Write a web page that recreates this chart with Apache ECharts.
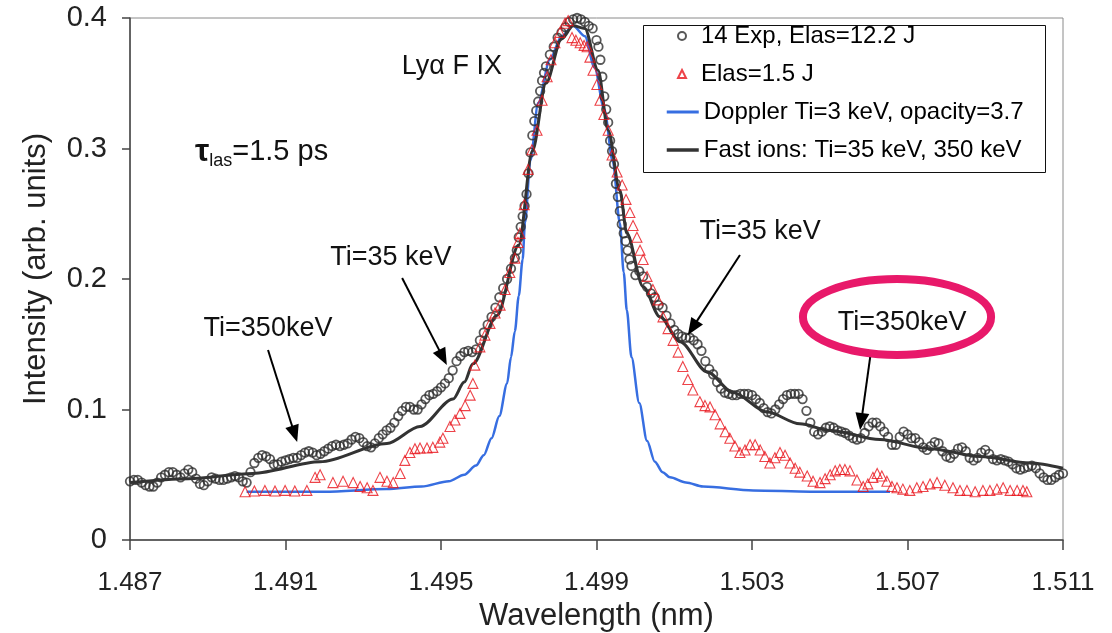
<!DOCTYPE html>
<html><head><meta charset="utf-8">
<script src="https://cdn.jsdelivr.net/npm/echarts@6/dist/echarts.min.js"></script>
<style>html,body{margin:0;padding:0;background:#fff}#c{width:1112px;height:633px}</style>
</head><body><div id="c"></div>
<script>
const FONT = '"Liberation Sans", Arial, Helvetica, sans-serif';

// ---- data (wavelength nm, intensity arb. units) ----
const expData = [
[1.4870,0.045],[1.4871,0.046],[1.4872,0.046],[1.4873,0.044],[1.4874,0.042],[1.4875,0.041],[1.4876,0.041],[1.4877,0.044],[1.4878,0.048],[1.4879,0.050],
[1.4880,0.052],[1.4881,0.052],[1.4882,0.050],[1.4883,0.048],[1.4884,0.051],[1.4885,0.054],[1.4886,0.052],[1.4887,0.047],[1.4888,0.043],[1.4889,0.042],
[1.4890,0.045],[1.4891,0.048],[1.4892,0.047],[1.4893,0.046],[1.4894,0.046],[1.4895,0.047],[1.4896,0.048],[1.4897,0.049],[1.4898,0.048],[1.4899,0.045],
[1.4900,0.044],[1.4901,0.052],[1.4902,0.059],[1.4903,0.063],[1.4904,0.065],[1.4905,0.064],[1.4906,0.062],[1.4907,0.058],[1.4908,0.058],[1.4909,0.060],
[1.4910,0.061],[1.4911,0.062],[1.4912,0.063],[1.4913,0.063],[1.4914,0.065],[1.4915,0.067],[1.4916,0.068],[1.4917,0.067],[1.4918,0.065],[1.4919,0.066],
[1.4920,0.068],[1.4921,0.070],[1.4922,0.072],[1.4923,0.073],[1.4924,0.072],[1.4925,0.073],[1.4926,0.074],[1.4927,0.077],[1.4928,0.079],[1.4929,0.078],
[1.4930,0.075],[1.4931,0.072],[1.4932,0.071],[1.4933,0.074],[1.4934,0.078],[1.4935,0.081],[1.4936,0.084],[1.4937,0.086],[1.4938,0.090],[1.4939,0.095],
[1.4940,0.099],[1.4941,0.102],[1.4942,0.102],[1.4943,0.100],[1.4944,0.100],[1.4945,0.104],[1.4946,0.108],[1.4947,0.111],[1.4948,0.112],[1.4949,0.114],
[1.4950,0.117],[1.4951,0.120],[1.4952,0.124],[1.4953,0.130],[1.4954,0.137],[1.4955,0.141],[1.4956,0.144],[1.4957,0.145],[1.4958,0.144],[1.4959,0.146],
[1.4960,0.153],[1.4961,0.159],[1.4962,0.165],[1.4963,0.171],[1.4964,0.178],[1.4965,0.186],[1.4966,0.193],[1.4967,0.200],[1.4968,0.208],[1.4969,0.216],
[1.49695,0.222],[1.4970,0.232],[1.49705,0.240],[1.4971,0.248],[1.49715,0.256],[1.4972,0.265],[1.49725,0.281],[1.4973,0.297],[1.49735,0.310],[1.4974,0.321],
[1.49745,0.329],[1.4975,0.336],[1.49755,0.344],[1.4976,0.352],[1.49765,0.358],[1.4977,0.363],[1.4978,0.372],[1.4979,0.378],[1.4980,0.385],[1.4981,0.389],
[1.4982,0.393],[1.4983,0.397],[1.4984,0.399],[1.4985,0.400],[1.4986,0.399],[1.4987,0.397],[1.4988,0.394],[1.4989,0.392],[1.4990,0.383],[1.49905,0.378],
[1.4991,0.368],[1.49915,0.355],[1.4992,0.340],[1.49925,0.330],[1.4993,0.320],[1.49935,0.306],[1.4994,0.298],[1.49945,0.288],[1.4995,0.273],[1.49955,0.263],
[1.4996,0.252],[1.49965,0.242],[1.4997,0.235],[1.49975,0.229],[1.4998,0.222],[1.49985,0.215],[1.4999,0.210],[1.5000,0.203],[1.5001,0.206],[1.5002,0.202],
[1.5003,0.194],[1.5004,0.189],[1.5005,0.186],[1.5006,0.180],[1.5007,0.178],[1.5008,0.172],[1.5009,0.166],[1.5010,0.161],[1.5011,0.158],[1.5012,0.156],
[1.5013,0.155],[1.5014,0.155],[1.5015,0.153],[1.5016,0.150],[1.5017,0.145],[1.5018,0.137],[1.5019,0.131],[1.5020,0.127],[1.5021,0.121],[1.5022,0.116],
[1.5023,0.113],[1.5024,0.112],[1.5025,0.111],[1.5026,0.111],[1.5027,0.112],[1.5028,0.112],[1.5029,0.112],[1.5030,0.111],[1.5031,0.108],[1.5032,0.105],
[1.5033,0.101],[1.5034,0.098],[1.5035,0.097],[1.5036,0.100],[1.5037,0.104],[1.5038,0.108],[1.5039,0.111],[1.5040,0.112],[1.5041,0.112],[1.5042,0.112],
[1.5043,0.108],[1.5044,0.099],[1.5045,0.090],[1.5046,0.083],[1.5047,0.081],[1.5048,0.083],[1.5049,0.086],[1.5050,0.087],[1.5051,0.086],[1.5052,0.084],
[1.5053,0.083],[1.5054,0.082],[1.5055,0.080],[1.5056,0.078],[1.5057,0.077],[1.5058,0.078],[1.5059,0.082],[1.5060,0.087],[1.5061,0.090],[1.5062,0.090],
[1.5063,0.087],[1.5064,0.083],[1.5065,0.079],[1.5066,0.073],[1.5067,0.073],[1.5068,0.079],[1.5069,0.083],[1.5070,0.081],[1.5071,0.078],[1.5072,0.078],
[1.5073,0.075],[1.5074,0.071],[1.5075,0.069],[1.5076,0.072],[1.5077,0.075],[1.5078,0.074],[1.5079,0.068],[1.5080,0.064],[1.5081,0.063],[1.5082,0.066],
[1.5083,0.070],[1.5084,0.071],[1.5085,0.068],[1.5086,0.063],[1.5087,0.061],[1.5088,0.063],[1.5089,0.067],[1.5090,0.069],[1.5091,0.066],[1.5092,0.062],
[1.5093,0.061],[1.5094,0.062],[1.5095,0.061],[1.5096,0.060],[1.5097,0.058],[1.5098,0.055],[1.5099,0.054],[1.5100,0.055],[1.5101,0.056],[1.5102,0.057],
[1.5103,0.055],[1.5104,0.051],[1.5105,0.048],[1.5106,0.046],[1.5107,0.046],[1.5108,0.048],[1.5109,0.050],[1.5110,0.051]
];

const elasData = [
[1.48996,0.037],[1.4902,0.0375],[1.49047,0.038],[1.49073,0.0375],[1.49099,0.038],[1.49124,0.0375],[1.49155,0.038],[1.49176,0.048],[1.49189,0.050],[1.49222,0.044],
[1.49248,0.045],[1.49274,0.044],[1.49292,0.041],[1.4931,0.040],[1.49325,0.038],[1.49343,0.048],[1.49361,0.045],[1.49377,0.044],[1.49395,0.051],[1.49407,0.061],
[1.4942,0.067],[1.49433,0.070],[1.49446,0.0705],[1.49464,0.0705],[1.49479,0.071],[1.49497,0.075],[1.49505,0.078],[1.49523,0.087],[1.49536,0.092],[1.49549,0.097],
[1.49562,0.103],[1.49575,0.111],[1.49582,0.120],[1.49587,0.134],[1.496,0.148],[1.49613,0.157],[1.49626,0.166],[1.49639,0.174],[1.49652,0.180],[1.49665,0.192],
[1.49677,0.205],[1.4969,0.216],[1.49698,0.228],[1.49703,0.235],[1.49714,0.257],[1.49724,0.284],[1.49734,0.299],[1.49747,0.314],[1.4976,0.337],[1.49773,0.355],
[1.49783,0.368],[1.49793,0.381],[1.49806,0.389],[1.49819,0.396],[1.49827,0.398],[1.49837,0.385],[1.49847,0.383],[1.49858,0.381],[1.49868,0.379],[1.49876,0.378],
[1.49883,0.370],[1.49891,0.360],[1.49901,0.349],[1.49909,0.337],[1.49919,0.326],[1.4993,0.314],[1.4994,0.295],[1.49953,0.282],[1.49966,0.272],[1.49976,0.261],
[1.49986,0.251],[1.49994,0.241],[1.50004,0.232],[1.50012,0.222],[1.5002,0.215],[1.5003,0.202],[1.50045,0.192],[1.50058,0.184],[1.50071,0.171],[1.50084,0.162],
[1.50097,0.153],[1.5011,0.144],[1.50122,0.133],[1.50135,0.123],[1.50148,0.115],[1.50166,0.106],[1.50179,0.103],[1.50192,0.102],[1.50205,0.096],[1.50218,0.089],
[1.50231,0.083],[1.50243,0.078],[1.50256,0.072],[1.50269,0.067],[1.50282,0.069],[1.50295,0.073],[1.50308,0.073],[1.50321,0.069],[1.50333,0.064],[1.50346,0.059],
[1.50359,0.063],[1.50372,0.067],[1.50385,0.065],[1.50398,0.059],[1.50411,0.055],[1.50423,0.052],[1.50442,0.049],[1.50457,0.045],[1.50475,0.044],[1.50488,0.047],
[1.50501,0.050],[1.50514,0.053],[1.50526,0.054],[1.50539,0.054],[1.50552,0.053],[1.5057,0.046],[1.50586,0.041],[1.50598,0.043],[1.50611,0.048],[1.50622,0.051],
[1.50634,0.049],[1.50647,0.045],[1.5066,0.041],[1.50673,0.040],[1.50688,0.039],[1.50706,0.038],[1.50724,0.040],[1.5074,0.041],[1.50758,0.043],[1.50776,0.044],
[1.50796,0.042],[1.50817,0.040],[1.50835,0.038],[1.50853,0.038],[1.50874,0.037],[1.50894,0.038],[1.50912,0.038],[1.5093,0.039],[1.50946,0.040],[1.50964,0.038],
[1.50982,0.038],[1.50997,0.038],[1.51007,0.037]
];

const dopplerData = [
[1.4900,0.037],[1.4920,0.037],[1.4936,0.039],[1.4945,0.041],[1.4952,0.045],[1.4956,0.050],[1.4959,0.057],[1.4961,0.065],[1.4963,0.078],[1.4965,0.095],
[1.4967,0.120],[1.4968,0.140],[1.4969,0.160],[1.4970,0.187],[1.4971,0.215],[1.49716,0.243],[1.4973,0.291],[1.4975,0.335],[1.4978,0.368],[1.4981,0.386],
[1.4984,0.394],[1.4987,0.386],[1.49895,0.362],[1.4992,0.330],[1.49942,0.290],[1.4996,0.243],[1.4997,0.205],[1.49978,0.176],[1.4999,0.140],[1.5001,0.105],
[1.5003,0.076],[1.5005,0.060],[1.5007,0.052],[1.50089,0.048],[1.5013,0.044],[1.50174,0.041],[1.50303,0.038],[1.5045,0.037],[1.50655,0.037]
];

const fastIonData = [
[1.4870,0.044],[1.4885,0.047],[1.49016,0.051],[1.49189,0.060],[1.49361,0.074],[1.49446,0.087],[1.49531,0.108],[1.4956,0.121],[1.49582,0.135],[1.49644,0.172],
[1.4970,0.226],[1.49735,0.298],[1.4977,0.350],[1.4981,0.384],[1.4984,0.394],[1.4987,0.392],[1.49904,0.360],[1.4993,0.314],[1.4996,0.268],[1.49978,0.235],
[1.5002,0.194],[1.50063,0.171],[1.50115,0.152],[1.50184,0.129],[1.50251,0.113],[1.50339,0.098],[1.50423,0.089],[1.50501,0.084],[1.50629,0.077],[1.50758,0.070],
[1.50887,0.064],[1.51015,0.059],[1.5110,0.055]
];

const seriesNames = ['14 Exp, Elas=12.2 J', 'Elas=1.5 J', 'Doppler Ti=3 keV, opacity=3.7', 'Fast ions: Ti=35 keV, 350 keV'];

// annotations placed in data coordinates
const annotations = [
  {text: 'Ly\u03b1 F IX', at: [1.49528, 0.3625]},
  {text: 'Ti=35 keV', at: [1.49371, 0.2161]},
  {text: 'Ti=350keV', at: [1.49055, 0.1617]},
  {text: 'Ti=35 keV', at: [1.50321, 0.2360]},
  {text: 'Ti=350keV', at: [1.50686, 0.1670]}
];
const tauLabelAt = [1.48867, 0.2973];
const arrows = [
  {from: [1.49055, 0.1456], to: [1.49130, 0.0751]},
  {from: [1.49400, 0.2008], to: [1.49515, 0.1341]},
  {from: [1.50269, 0.2184], to: [1.50135, 0.1571]},
  {from: [1.50604, 0.1402], to: [1.50578, 0.0843]}
];
const ellipseCenter = [1.50673, 0.1709];
const ellipseSemiAxes = [0.00242, 0.0291];

const legendText = {fontFamily: FONT, fontSize: 24, color: '#000', lineHeight: 26};
const chart = echarts.init(document.getElementById('c'), null, {renderer: 'canvas'});
chart.setOption({
  animation: false,
  backgroundColor: '#fff',
  grid: {left: 130, right: 49, top: 18, bottom: 93, show: true, borderColor: '#8a8a8a', borderWidth: 1, outerBoundsMode: 'none', containLabel: false},
  legend: [
    {data: [seriesNames[0], seriesNames[1]], left: 677, top: 23, orient: 'vertical', padding: 0,
     itemWidth: 8, itemHeight: 8, itemGap: 12, z: 8,
     textStyle: Object.assign({padding: [0, 0, 0, 10]}, legendText)},
    {data: [
       {name: seriesNames[2], itemStyle: {opacity: 0}, lineStyle: {width: 3, color: '#376ee1'}},
       {name: seriesNames[3], itemStyle: {opacity: 0}, lineStyle: {width: 3.5, color: '#333'}}],
     left: 665, top: 99, orient: 'vertical', padding: 0,
     itemWidth: 32, itemHeight: 8, itemGap: 12, z: 8, textStyle: legendText}
  ],
  xAxis: {
    type: 'value', min: 1.487, max: 1.511, interval: 0.004,
    name: 'Wavelength (nm)', nameLocation: 'middle', nameGap: 57,
    nameTextStyle: {fontFamily: FONT, fontSize: 31, color: '#222'},
    axisLine: {show: true, lineStyle: {color: '#444', width: 1.5}},
    axisTick: {show: true, length: 10, lineStyle: {color: '#444', width: 1.5}},
    axisLabel: {margin: 30, fontFamily: FONT, fontSize: 26, color: '#222', formatter: v => v.toFixed(3)},
    splitLine: {show: false}
  },
  yAxis: {
    type: 'value', min: 0, max: 0.4, interval: 0.1,
    name: 'Intensity (arb. units)', nameLocation: 'middle', nameGap: 78,
    nameTextStyle: {fontFamily: FONT, fontSize: 31, color: '#222', padding: [0, 0, 0, 20]},
    axisLine: {show: true, lineStyle: {color: '#444', width: 1.5}},
    axisTick: {show: true, length: 8, lineStyle: {color: '#444', width: 1.5}},
    axisLabel: {margin: 23, fontFamily: FONT, fontSize: 29, color: '#222', formatter: v => v === 0 ? '0' : v.toFixed(1)},
    splitLine: {show: false}
  },
  series: [
    {name: seriesNames[2], type: 'line', data: dopplerData, symbol: 'none', smooth: 0.3, smoothMonotone: 'x',
     lineStyle: {color: '#376ee1', width: 2.5}, itemStyle: {color: '#376ee1'}, z: 1},
    {name: seriesNames[0], type: 'scatter', data: expData, symbol: 'circle', symbolSize: 8.5,
     itemStyle: {color: 'rgba(255,255,255,0)', borderColor: '#2e2e2e', borderWidth: 1.8}, z: 2},
    {name: seriesNames[3], type: 'line', data: fastIonData, symbol: 'none', smooth: 0.3, smoothMonotone: 'x',
     lineStyle: {color: '#333', width: 3}, itemStyle: {color: '#333'}, z: 3},
    {name: seriesNames[1], type: 'scatter', data: elasData, symbol: 'triangle', symbolSize: 10,
     itemStyle: {color: 'rgba(255,255,255,0)', borderColor: '#e8141c', borderWidth: 1.1}, z: 4}
  ]
});

function toPx(p) { return chart.convertToPixel({gridIndex: 0}, p); }
const g = [];
// legend frame
g.push({type: 'rect', z: 7, shape: {x: 643.5, y: 25.5, width: 402, height: 147}, style: {fill: '#fff', stroke: '#111', lineWidth: 1}});
annotations.forEach(a => {
  const p = toPx(a.at);
  g.push({type: 'text', x: p[0], y: p[1], z: 100,
    style: {text: a.text, fontFamily: FONT, fontSize: 27, fill: '#111', align: 'center', verticalAlign: 'middle', textAlign: 'center', textVerticalAlign: 'middle'}});
});
(function () {
  const p = toPx(tauLabelAt);
  g.push({type: 'text', x: p[0], y: p[1], z: 100,
    style: {text: '{t|\u03c4}{s|las}{n|=1.5 ps}', align: 'left', verticalAlign: 'middle', textAlign: 'left', textVerticalAlign: 'middle',
      rich: {
        t: {fontFamily: FONT, fontSize: 32, fontWeight: 'bold', fill: '#111', color: '#111', lineHeight: 36, verticalAlign: 'middle'},
        s: {fontFamily: FONT, fontSize: 18, fill: '#111', color: '#111', lineHeight: 18, verticalAlign: 'bottom'},
        n: {fontFamily: FONT, fontSize: 29, fill: '#111', color: '#111', lineHeight: 36, verticalAlign: 'middle'}
      }}});
})();
arrows.forEach(a => {
  const s = toPx(a.from), t = toPx(a.to);
  const dx = t[0] - s[0], dy = t[1] - s[1], L = Math.hypot(dx, dy);
  const ux = dx / L, uy = dy / L, hl = 17, hw = 7;
  const bx = t[0] - ux * hl, by = t[1] - uy * hl;
  g.push({type: 'line', z: 100, shape: {x1: s[0], y1: s[1], x2: bx + ux * 2, y2: by + uy * 2}, style: {stroke: '#000', lineWidth: 2}});
  g.push({type: 'polygon', z: 100, shape: {points: [[t[0], t[1]], [bx - uy * hw, by + ux * hw], [bx + uy * hw, by - ux * hw]]}, style: {fill: '#000'}});
});
(function () {
  const c = toPx(ellipseCenter);
  const ex = toPx([ellipseCenter[0] + ellipseSemiAxes[0], ellipseCenter[1]]);
  const ey = toPx([ellipseCenter[0], ellipseCenter[1] + ellipseSemiAxes[1]]);
  g.push({type: 'ellipse', z: 99, shape: {cx: c[0], cy: c[1], rx: Math.abs(ex[0] - c[0]), ry: Math.abs(ey[1] - c[1])},
    style: {fill: 'none', stroke: '#e8196a', lineWidth: 8}});
})();
chart.setOption({graphic: g});
</script>
</body></html>
